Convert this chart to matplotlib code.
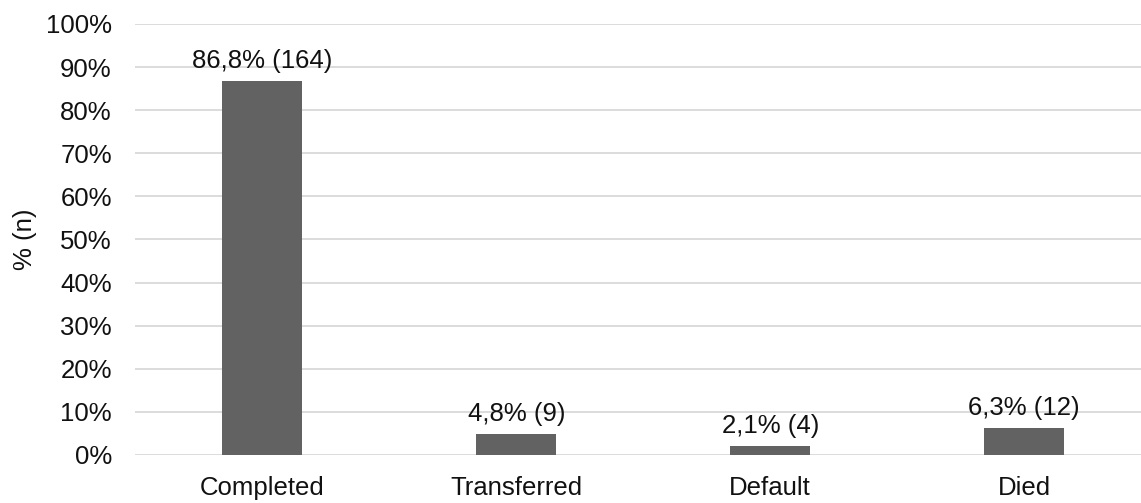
import numpy as np
import matplotlib.pyplot as plt

plt.rcParams['font.family'] = ['Liberation Sans', 'DejaVu Sans']

categories = ['Completed', 'Transferred', 'Default', 'Died']
percents = [86.8, 4.8, 2.1, 6.3]
counts = [164, 9, 4, 12]

fig = plt.figure(figsize=(11.41, 5.03), dpi=100)
ax = fig.add_axes([135.4 / 1141, 48 / 503, 1 - 135.4 / 1141, 431 / 503])

x = np.arange(len(categories))
ax.bar(x, percents, width=0.315, color='#626262', zorder=3)

fs = 18.5
for xi, p, n in zip(x, percents, counts):
    label = f"{p:.1f}".replace('.', ',') + f"% ({n})"
    ax.annotate(label, (xi, p), xytext=(0, 6), textcoords='offset points',
                ha='center', va='bottom', fontsize=fs, color='#111111')

ax.set_xlim(-0.5, 3.46)
ax.set_ylim(0, 100)
ax.set_yticks(np.arange(0, 101, 10))
ax.set_yticklabels([f"{v}%" for v in range(0, 101, 10)])
ax.set_xticks(x)
ax.set_xticklabels(categories)
ax.tick_params(axis='both', length=0, labelsize=fs, colors='#111111')
ax.tick_params(axis='x', pad=15)
ax.tick_params(axis='y', pad=17)
ax.grid(axis='y', color='#d9d9d9', linewidth=1.3, zorder=0)
for s in ax.spines.values():
    s.set_visible(False)
ax.set_ylabel('% (n)', fontsize=fs, color='#111111', labelpad=6)

fig.savefig('out.png', dpi=100)
